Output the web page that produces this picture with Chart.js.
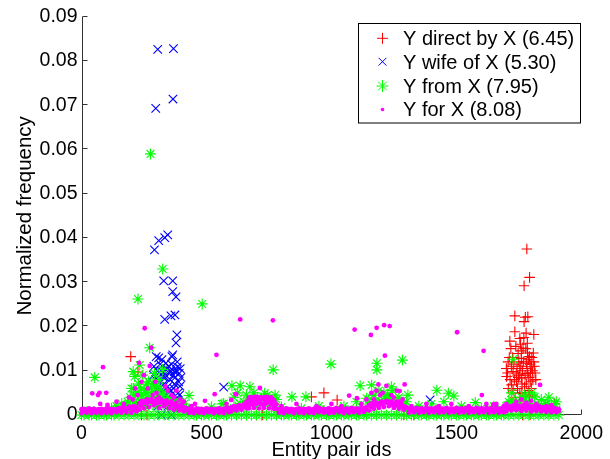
<!DOCTYPE html>
<html><head><meta charset="utf-8">
<script src="https://cdn.jsdelivr.net/npm/chart.js@4.4.1/dist/chart.umd.min.js"></script>
<style>html,body{margin:0;padding:0;background:#fff;overflow:hidden}</style>
</head><body>
<canvas id="c" width="610" height="459"></canvas>
<script>
const seriesNames = ['Y direct by X (6.45)', 'Y wife of X (5.30)', 'Y from X (7.95)', 'Y for X (8.08)'];
const xTitle = 'Entity pair ids';
const yTitle = 'Normalized frequency';
const xTicks = [0, 500, 1000, 1500, 2000];
const xTickLabels = ['0', '500', '1000', '1500', '2000'];
const yTicks = [0, 0.01, 0.02, 0.03, 0.04, 0.05, 0.06, 0.07, 0.08, 0.09];
const yTickLabels = ['0', '0.01', '0.02', '0.03', '0.04', '0.05', '0.06', '0.07', '0.08', '0.09'];

// dense near-zero band: values per entity id 0,10,20,...,1910
const BAND_STEP = 10;
const magentaBand = [
.0004,.0009,.0005,.0010,.0004,.0008,.0005,.0009,.0004,.0010,.0005,.0009,.0004,.0010,.0006,.0011,
.0005,.0012,.0006,.0014,.0005,.0011,.0008,
.0012,.0020,.0015,.0026,.0018,.0030,.0022,.0028,.0016,.0032,.0020,.0026,.0015,.0022,.0012,.0018,.0010,.0014,.0008,.0012,
.0005,.0009,.0004,.0010,.0005,.0008,.0004,.0009,.0006,.0011,.0004,.0009,.0005,.0010,.0004,.0012,.0006,
.0008,.0014,.0010,.0016,.0012,.0018,.0015,
.0022,.0030,.0026,.0034,.0028,.0035,.0025,.0033,.0028,.0032,.0020,.0014,
.0005,.0009,.0004,.0010,.0006,.0009,.0004,.0011,.0005,.0009,.0004,.0010,.0005,.0008,.0004,.0010,.0006,.0012,.0005,.0009,.0004,.0010,.0005,.0011,.0006,.0009,.0004,.0010,.0005,.0012,.0006,.0010,.0005,.0013,.0007,.0012,
.0010,.0018,.0014,.0022,.0016,.0025,.0018,.0028,.0020,.0024,.0016,.0022,.0014,.0020,.0012,.0016,
.0005,.0010,.0006,.0011,.0005,.0009,.0006,.0012,.0005,.0010,.0006,.0011,.0005,.0009,.0006,.0012,.0005,.0010,.0006,.0011,.0005,.0010,.0006,.0012,.0005,.0009,.0006,.0011,.0005,.0010,.0006,.0012,.0005,.0010,.0006,.0011,.0005,.0010,.0006,
.0008,.0014,.0010,.0016,.0011,.0015,.0009,.0014,.0010,.0016,.0008,.0013,.0009,.0014,.0008,.0012,.0007,.0012,.0006,.0011,.0006,.0009
];
const magentaUpperBand = [
.0013,.0014,.0012,.0015,.0013,.0014,.0012,.0013,.0014,.0012,.0015,.0013,.0014,.0012,.0013,.0015,
.0016,.0018,.0015,.0019,.0017,.0020,.0018,
.0026,.0032,.0028,.0034,.0030,.0036,.0031,.0035,.0028,.0034,.0030,.0033,.0027,.0031,.0024,.0028,.0020,.0024,.0018,.0016,
.0013,.0014,.0012,.0015,.0013,.0014,.0012,.0015,.0013,.0014,.0012,.0013,.0015,.0012,.0014,.0016,.0015,
.0018,.0020,.0019,.0022,.0020,.0024,.0026,
.0038,.0040,.0037,.0041,.0039,.0040,.0038,.0041,.0039,.0040,.0034,.0024,
.0013,.0014,.0012,.0015,.0013,.0014,.0012,.0013,.0015,.0012,.0014,.0013,.0015,.0012,.0014,.0013,.0016,.0012,.0014,.0013,.0015,.0012,.0014,.0016,.0013,.0014,.0012,.0015,.0013,.0016,.0014,.0015,.0013,.0017,.0015,.0018,
.0022,.0026,.0024,.0028,.0026,.0030,.0028,.0032,.0029,.0031,.0027,.0030,.0024,.0026,.0020,.0018,
.0014,.0015,.0013,.0016,.0014,.0015,.0013,.0016,.0014,.0015,.0013,.0017,.0014,.0015,.0013,.0016,.0014,.0015,.0013,.0016,.0014,.0015,.0013,.0016,.0014,.0015,.0013,.0016,.0014,.0015,.0013,.0016,.0014,.0015,.0013,.0016,.0014,.0015,.0016,
.0018,.0020,.0019,.0022,.0020,.0021,.0019,.0022,.0020,.0021,.0018,.0020,.0019,.0020,.0017,.0018,.0016,.0017,.0015,.0016,.0014,.0013
];
const greenBand = [
0,0,.0007,0,0,.0008,0,0,.0006,0,0,.0009,0,0,.0007,0,
.0012,0,.0016,0,.0012,0,.0020,
0,.0030,0,.0025,0,.0035,0,.0028,0,.0032,0,.0026,0,.0022,0,.0018,0,.0020,0,.0015,
0,.0007,0,0,.0008,0,0,.0006,0,0,.0009,0,0,.0007,0,0,.0010,
0,.0016,0,.0020,0,.0018,0,
.0030,0,.0036,0,.0032,0,.0038,0,.0030,0,.0024,0,
.0007,0,0,.0008,0,0,.0006,0,0,.0009,0,0,.0007,0,0,.0008,0,0,.0010,0,0,.0007,0,0,.0008,0,0,.0006,0,0,.0009,0,0,.0012,0,0,
.0025,0,.0030,0,.0028,0,.0034,0,.0030,0,.0026,0,.0024,0,.0020,0,
.0008,0,0,.0010,0,0,.0007,0,0,.0011,0,0,.0008,0,0,.0009,0,0,.0007,0,0,.0010,0,0,.0008,0,0,.0009,0,0,.0007,0,0,.0010,0,0,.0008,0,0,
.0020,0,.0024,0,.0028,0,.0022,0,.0026,0,.0020,0,.0018,0,.0022,0,.0016,0,.0014,0,.0012,0
];

// individual points [entity id, normalized frequency]
const redPoints = [
[197,.0132],[226,.0097],[920,.0041],[970,.0050],[1023,.0034],
[1782,.0375],[1793,.0311],[1771,.0292],[1734,.0224],[1776,.0221],[1786,.0222],[1771,.0211],[1810,.0182],[1734,.0188],
[1714,.0167],[1754,.0173],[1784,.0162],[1767,.0151],[1747,.0139],[1793,.0132],[1760,.0128],[1810,.0120],[1780,.0117],
[1707,.0120],[1800,.0109],[1754,.0105],[1727,.0098],[1701,.0087],[1786,.0094],[1760,.0083],[1806,.0079],[1741,.0075],
[1721,.0068],[1773,.0064],[1727,.0056],[1754,.0049],[1793,.0041],[1892,.0026],
[1720,.0110],[1740,.0095],[1765,.0100],[1790,.0085],[1805,.0100],[1715,.0080],[1745,.0060],[1780,.0070],[1800,.0060],
[1735,.0040],[1770,.0030],[1760,.0145],[1795,.0115],[1725,.0130],[1815,.0095],[1700,.0105],[1750,.0120],[1785,.0140],
[1705,.0095],[1712,.0130],[1718,.0150],[1730,.0115],[1738,.0155],[1743,.0105],[1752,.0090],[1758,.0110],[1763,.0070],
[1768,.0120],[1775,.0090],[1778,.0150],[1783,.0105],[1788,.0125],[1797,.0095],[1802,.0130],[1808,.0140],[1812,.0110],
[1798,.0075],[1790,.0055],[1762,.0050],[1732,.0080],[1748,.0085],[1775,.0045],[1803,.0045],[1818,.0080],[1708,.0060],
[1757,.0160],[1770,.0175],[1779,.0185],
[240,0],[262,0],[700,0],[725,0],[1290,0],[1330,0],[1765,0],[1795,0]
];
const bluePoints = [
[305,.0826],[368,.0828],[297,.0693],[366,.0714],[292,.0373],[309,.0394],[333,.0401],[345,.0407],[329,.0303],[365,.0303],
[365,.0279],[378,.0267],[333,.0216],[358,.0224],[374,.0226],[382,.0181],[378,.0163],[309,.0129],[362,.0132],
[299,.0132],[365,.0136],[338,.0117],[384,.0109],[371,.0098],[352,.0094],[325,.0087],[312,.0075],[391,.0094],[345,.0064],
[325,.0053],[305,.0045],[365,.0049],[338,.0030],[378,.0034],[312,.0026],
[290,.0110],[318,.0100],[342,.0105],[355,.0080],[372,.0070],[395,.0105],[300,.0060],[330,.0070],[387,.0050],[352,.0040],
[398,.0085],[315,.0115],[360,.0115],[383,.0120],
[288,.0090],[296,.0080],[303,.0100],[322,.0125],[328,.0095],[336,.0085],[348,.0110],[356,.0100],[367,.0090],[375,.0085],
[380,.0100],[389,.0075],[394,.0065],[301,.0035],[327,.0040],[341,.0045],[358,.0055],[369,.0060],[376,.0035],[392,.0045],
[318,.0055],[306,.0020],[346,.0020],[364,.0025],[385,.0025],
[569,.0063],[1395,.0034],[320,0],[360,0]
];
const greenPoints = [
[276,.0590],[53,.0085],[226,.0262],[325,.0330],[273,.0152],[207,.0098],[292,.0094],[325,.0103],[207,.0060],[161,.0026],
[430,.0044],[483,.0251],[767,.0102],[998,.0115],[1182,.0117],[1182,.0102],[1284,.0124],[602,.0066],[635,.0066],[674,.0064],
[562,.0025],[733,.0049],[775,.0045],[842,.0041],[898,.0041],[1115,.0066],[1161,.0068],[1240,.0064],[1141,.0038],[1218,.0041],
[635,.0025],[1422,.0056],[1468,.0049],[1490,.0043],[1306,.0045],[1576,.0028],[1727,.0126],[1773,.0045],[1813,.0041],[1865,.0026],
[1721,.0034],[1859,.0026],
[213,.0087],[233,.0113],[200,.0060],[253,.0056],[286,.0071],[266,.0038],[569,.0026],[220,.0023],[312,.0064],
[240,.0045],[260,.0070],[250,.0035],[280,.0050],[300,.0040],[310,.0080],[225,.0050],[340,.0030],[195,.0040],[245,.0090],
[270,.0030],[355,.0020],[380,.0025],[400,.0020],[120,.0015],[140,.0020],[180,.0020],[420,.0015],[520,.0018],[650,.0030],
[700,.0028],[720,.0035],[760,.0020],[800,.0018],[880,.0015],[950,.0020],[1050,.0020],[1100,.0030],[1170,.0045],[1190,.0055],
[1200,.0030],[1230,.0035],[1260,.0030],[1290,.0025],[1350,.0020],[1400,.0025],[1450,.0030],[1520,.0020],[1600,.0015],[1650,.0020],
[1710,.0030],[1750,.0025],[1790,.0030],[1830,.0022],[1880,.0018],[1900,.0030],
[185,.0030],[205,.0035],[215,.0045],[228,.0070],[238,.0060],[248,.0025],[258,.0050],[268,.0075],[278,.0060],[290,.0035],
[295,.0065],[305,.0055],[318,.0045],[330,.0050],[345,.0040],[360,.0035],[372,.0030],[390,.0030],[410,.0025],[215,.0025],
[235,.0030],[255,.0020],[282,.0025],[298,.0020],[322,.0025],
[610,.0040],[625,.0050],[660,.0045],[690,.0050],[705,.0040],[745,.0045],[780,.0035],
[1150,.0035],[1175,.0030],[1210,.0050],[1225,.0045],[1245,.0055],[1270,.0040],[1300,.0030],
[1720,.0050],[1760,.0040],[1800,.0050],[1840,.0035],[1870,.0040],[1895,.0025]
];
const magentaPoints = [
[86,.0108],[253,.0196],[279,.0152],[230,.0118],[43,.0049],[66,.0045],[72,.0050],[99,.0050],[75,.0025],[104,.0023],
[273,.0111],[635,.0216],[766,.0214],[540,.0136],[1093,.0193],[1158,.0181],[1181,.0197],[1211,.0203],[1233,.0201],[1214,.0134],
[533,.0047],[619,.0047],[454,.0025],[494,.0032],[714,.0061],[1071,.0044],[1102,.0038],[1293,.0069],[1188,.0069],[1220,.0066],
[1503,.0187],[1609,.0145],[1273,.0054],[1602,.0045],[1835,.0068],[599,.0034],[617,.0047],[1648,.0024],
[190,.0040],[215,.0060],[240,.0075],[262,.0035],[285,.0045],[300,.0050],[320,.0030],[345,.0055],[370,.0040],[395,.0035],
[410,.0030],[250,.0090],[265,.0060],
[1170,.0035],[1195,.0045],[1230,.0030],[1250,.0040],[1270,.0030],[1160,.0050],
[1700,.0025],[1740,.0030],[1780,.0028],[1820,.0025],[1860,.0020],[1660,.0025],
[670,.0015],[690,.0016],[710,.0015],[730,.0016],[750,.0015],[770,.0014],
[680,.0024],[700,.0025],[720,.0024],[740,.0026],[760,.0024],
[675,.0033],[695,.0036],[715,.0035],[735,.0034],[755,.0033],
[672,.0040],[692,.0041],[712,.0039],[732,.0040],[752,.0038],[772,.0030],
[235,.0025],[255,.0028],[275,.0030],[295,.0026],[315,.0028],[335,.0024],[355,.0026],[375,.0022],[395,.0020],
[140,.0030],[170,.0025],[205,.0035],[225,.0045],[295,.0075],[310,.0040],[335,.0065],[360,.0045],[380,.0055],[440,.0020],
[580,.0025],[660,.0030],[800,.0020],[860,.0025],[940,.0020],[1000,.0025],[1040,.0020],[1120,.0025],[1140,.0035],[1180,.0055],
[1205,.0050],[1240,.0045],[1262,.0055],[1285,.0035],[1320,.0020],[1380,.0025],[1430,.0020],[1480,.0025],[1550,.0020],[1620,.0025],
[1690,.0020],[1760,.0035],[1800,.0032],[1880,.0022]
];

const FONT = '"Liberation Sans", Arial, Helvetica, sans-serif';
const COLORS = ['#ff0000', '#0000ff', '#00ff00', '#ff00ff'];

function pairs(list) { return list.map(p => ({x: p[0], y: p[1]})); }
function band(vals) { return vals.map((v, i) => ({x: i * BAND_STEP, y: v})); }

const datasets = [
  {label: seriesNames[0], data: pairs(redPoints), pointStyle: 'cross', pointRadius: 5.3,
   pointBorderColor: COLORS[0], pointBackgroundColor: COLORS[0], pointBorderWidth: 1.1, order: 4},
  {label: seriesNames[1], data: pairs(bluePoints), pointStyle: 'crossRot', pointRadius: 6,
   pointBorderColor: COLORS[1], pointBackgroundColor: COLORS[1], pointBorderWidth: 1.1, order: 3},
  {label: seriesNames[2], data: band(greenBand).concat(pairs(greenPoints)), pointStyle: 'star', pointRadius: 5.5,
   pointBorderColor: COLORS[2], pointBackgroundColor: COLORS[2], pointBorderWidth: 1.1, order: 2},
  {label: seriesNames[3], data: band(magentaBand).concat(band(magentaUpperBand), pairs(magentaPoints)), pointStyle: 'circle', pointRadius: 2.4,
   pointBorderColor: COLORS[3], pointBackgroundColor: COLORS[3], pointBorderWidth: 0, order: 1}
].map(d => Object.assign(d, {showLine: false, clip: false, pointHoverRadius: d.pointRadius}));

const axesPlugin = {
  id: 'matlabAxes',
  beforeDatasetsDraw(chart) {
    const ctx = chart.ctx, a = chart.chartArea;
    const xs = chart.scales.x, ys = chart.scales.y;
    ctx.save();
    ctx.strokeStyle = '#333';
    ctx.lineWidth = 1;
    const L = Math.round(a.left) + 0.5, B = Math.round(a.bottom) - 0.5;
    ctx.beginPath();
    ctx.moveTo(L, a.top); ctx.lineTo(L, B);
    ctx.lineTo(a.right, B);
    yTicks.forEach(v => { const y = Math.round(ys.getPixelForValue(v)) - 0.5; ctx.moveTo(L, y); ctx.lineTo(L + 5, y); });
    xTicks.forEach(v => { const x = Math.round(xs.getPixelForValue(v)) + 0.5; ctx.moveTo(x, B); ctx.lineTo(x, B - 5); });
    ctx.stroke();
    ctx.restore();
  },
  afterDraw(chart) {
    const ctx = chart.ctx, a = chart.chartArea;
    ctx.save();
    ctx.fillStyle = '#000';
    ctx.textAlign = 'center';
    ctx.textBaseline = 'alphabetic';
    ctx.font = '20px ' + FONT;
    ctx.fillText(xTitle, (a.left + a.right) / 2, 456);
    ctx.save();
    ctx.font = '20.5px ' + FONT;
    ctx.translate(31, (a.top + a.bottom) / 2);
    ctx.rotate(-Math.PI / 2);
    ctx.fillText(yTitle, 0, 0);
    ctx.restore();
    // legend
    ctx.fillStyle = '#fff';
    ctx.fillRect(358.5, 23.5, 222, 99.5);
    ctx.strokeStyle = '#000';
    ctx.lineWidth = 1;
    ctx.strokeRect(358.5, 23.5, 222, 99.5);
    const rows = [38.3, 61.7, 86, 109.5];
    const mx = 382.5;
    rows.forEach((y, i) => {
      ctx.strokeStyle = COLORS[i]; ctx.fillStyle = COLORS[i];
      ctx.beginPath();
      if (i === 0) { ctx.moveTo(mx - 5.5, y); ctx.lineTo(mx + 5.5, y); ctx.moveTo(mx, y - 5.5); ctx.lineTo(mx, y + 5.5); ctx.stroke(); }
      else if (i === 1) { const d = 3.9; ctx.moveTo(mx - d, y - d); ctx.lineTo(mx + d, y + d); ctx.moveTo(mx - d, y + d); ctx.lineTo(mx + d, y - d); ctx.stroke(); }
      else if (i === 2) { const r = 6, d = 4.2; ctx.moveTo(mx - r, y); ctx.lineTo(mx + r, y); ctx.moveTo(mx, y - r); ctx.lineTo(mx, y + r);
        ctx.moveTo(mx - d, y - d); ctx.lineTo(mx + d, y + d); ctx.moveTo(mx - d, y + d); ctx.lineTo(mx + d, y - d); ctx.stroke(); }
      else { ctx.arc(mx, y, 1.8, 0, Math.PI * 2); ctx.fill(); }
      ctx.fillStyle = '#000';
      ctx.textAlign = 'left';
      ctx.font = '20px ' + FONT;
      ctx.fillText(seriesNames[i], 403, y + 6.8);
    });
    ctx.restore();
  }
};

new Chart(document.getElementById('c'), {
  type: 'scatter',
  data: {datasets},
  options: {
    responsive: false,
    animation: false,
    devicePixelRatio: 1,
    events: [],
    layout: {padding: {left: 0, top: 16.7, right: 23, bottom: 0}},
    plugins: {legend: {display: false}, tooltip: {enabled: false}},
    scales: {
      x: {
        type: 'linear', min: 0, max: 2000,
        afterBuildTicks: s => { s.ticks = xTicks.map(v => ({value: v})); },
        afterFit: s => { s.height = 44; },
        ticks: {callback: (v, i) => xTickLabels[i], font: {family: FONT, size: 19.5}, color: '#000', padding: 7, maxRotation: 0, autoSkip: false},
        grid: {display: false, drawTicks: false},
        border: {display: false}
      },
      y: {
        type: 'linear', min: 0, max: 0.09,
        afterBuildTicks: s => { s.ticks = yTicks.map(v => ({value: v})); },
        afterFit: s => { s.width = 81.5; },
        ticks: {callback: (v, i) => yTickLabels[i], font: {family: FONT, size: 19.5}, color: '#000', padding: 4, autoSkip: false},
        grid: {display: false, drawTicks: false},
        border: {display: false}
      }
    }
  },
  plugins: [axesPlugin]
});
</script>
</body></html>
